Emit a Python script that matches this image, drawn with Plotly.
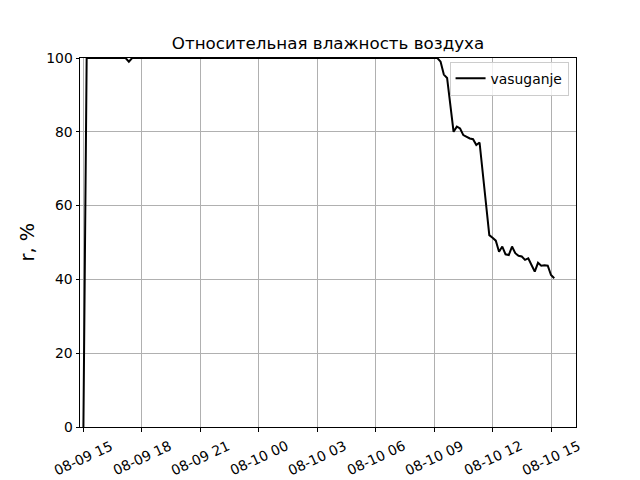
import plotly.graph_objects as go

# ---- data ----
times = [
    "2021-08-09 15:00", "2021-08-09 15:10", "2021-08-09 17:10", "2021-08-09 17:20",
    "2021-08-09 17:30", "2021-08-10 09:10", "2021-08-10 09:20", "2021-08-10 09:30",
    "2021-08-10 09:40", "2021-08-10 09:50", "2021-08-10 10:00", "2021-08-10 10:10",
    "2021-08-10 10:20", "2021-08-10 10:30", "2021-08-10 10:40", "2021-08-10 10:50",
    "2021-08-10 11:00", "2021-08-10 11:10", "2021-08-10 11:20", "2021-08-10 11:50",
    "2021-08-10 12:00", "2021-08-10 12:10", "2021-08-10 12:20", "2021-08-10 12:30",
    "2021-08-10 12:40", "2021-08-10 12:50", "2021-08-10 13:00", "2021-08-10 13:10",
    "2021-08-10 13:20", "2021-08-10 13:30", "2021-08-10 13:40", "2021-08-10 13:50",
    "2021-08-10 14:00", "2021-08-10 14:10", "2021-08-10 14:20", "2021-08-10 14:30",
    "2021-08-10 14:40", "2021-08-10 14:50", "2021-08-10 15:00", "2021-08-10 15:10",
]
humidity = [
    0.0, 100.0, 100.0, 99.0,
    100.0, 100.0, 99.0, 95.5,
    94.6, 87.0, 80.0, 81.4,
    80.9, 79.1, 78.6, 78.2,
    78.0, 76.4, 77.1, 52.0,
    51.3, 50.5, 47.5, 48.9,
    46.8, 46.6, 48.9, 47.1,
    46.4, 46.2, 45.3, 45.7,
    43.9, 42.1, 44.5, 43.7,
    43.8, 43.7, 41.2, 40.3,
]
series_name = "vasuganje"

tick_times = [
    "2021-08-09 15:00", "2021-08-09 18:00", "2021-08-09 21:00", "2021-08-10 00:00",
    "2021-08-10 03:00", "2021-08-10 06:00", "2021-08-10 09:00", "2021-08-10 12:00",
    "2021-08-10 15:00",
]
tick_labels = [
    "08-09 15", "08-09 18", "08-09 21", "08-10 00",
    "08-10 03", "08-10 06", "08-10 09", "08-10 12", "08-10 15",
]
y_ticks = [0, 20, 40, 60, 80, 100]

title_text = "Относительная влажность воздуха"
y_label = "r, %"

FONT = "DejaVu Sans"
OFF = 8  # page body margin offset

fig = go.Figure()
fig.add_trace(go.Scatter(
    x=times, y=humidity, mode="lines", name=series_name,
    line=dict(color="black", width=2),
))

annotations = []
for t, lab in zip(tick_times, tick_labels):
    annotations.append(dict(
        x=t, xref="x", y=0, yref="paper", text=lab, showarrow=False,
        textangle=-25, xanchor="center", yanchor="top", yshift=-8,
        font=dict(family=FONT, size=13.9, color="black"),
    ))
annotations.append(dict(
    x=(27 - 80) / 496, xref="paper", y=0.5, yref="paper", text=y_label,
    showarrow=False, textangle=-90, xanchor="center", yanchor="middle",
    font=dict(family=FONT, size=19.4, color="black"),
))

fig.update_layout(
    width=640, height=480,
    margin=dict(l=80 - OFF, r=640 - (80 - OFF) - 496, t=58 - OFF, b=480 - (58 - OFF) - 369),
    paper_bgcolor="white", plot_bgcolor="white",
    font=dict(family=FONT, size=13.9, color="black"),
    title=dict(text=title_text, x=0.5, xref="paper", y=1 - (43 - OFF) / 480,
               yref="container", xanchor="center", yanchor="middle",
               font=dict(family=FONT, size=16.7, color="black")),
    showlegend=True,
    legend=dict(x=0.985, xanchor="right", y=0.99, yanchor="top",
                bgcolor="rgba(255,255,255,0.8)", bordercolor="#cccccc",
                borderwidth=1, font=dict(family=FONT, size=13.9, color="black")),
    annotations=annotations,
)
fig.update_xaxes(
    type="date", range=["2021-08-09 14:49:30", "2021-08-10 16:17:00"],
    tickvals=tick_times, showticklabels=False,
    ticks="outside", ticklen=3.5, tickwidth=1, tickcolor="black",
    showgrid=True, gridcolor="#b0b0b0", gridwidth=0.8,
    showline=True, linecolor="black", linewidth=1, mirror=True, zeroline=False,
)
fig.update_yaxes(
    range=[0, 100], tickvals=y_ticks,
    ticks="outside", ticklen=3.5, tickwidth=1, tickcolor="black",
    showgrid=True, gridcolor="#b0b0b0", gridwidth=0.8,
    showline=True, linecolor="black", linewidth=1, mirror=True, zeroline=False,
    tickfont=dict(family=FONT, size=13.9, color="black"),
)

fig.write_html("out.html")
